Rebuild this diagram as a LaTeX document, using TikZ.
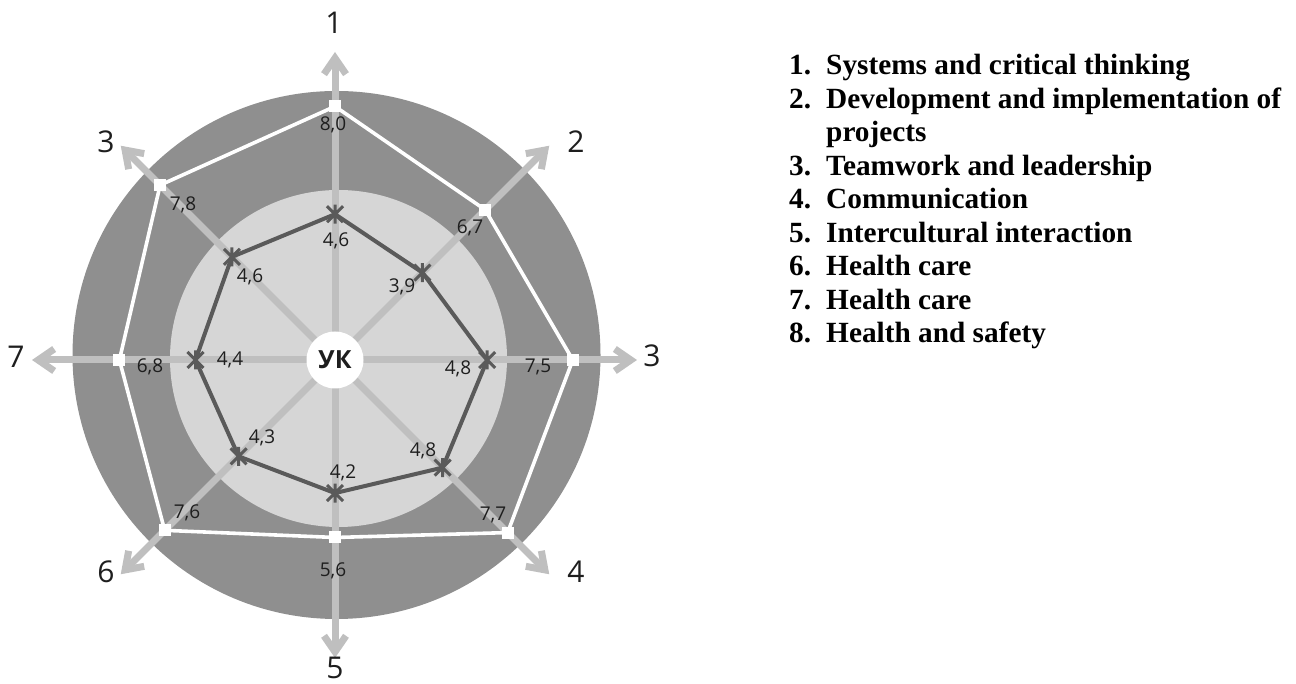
\documentclass[tikz,border=0pt]{standalone}
\usepackage{fontspec}
\setmainfont{Liberation Serif}
\newfontfamily\chartfont{Open Sans}
\usetikzlibrary{arrows.meta}
\definecolor{ringdark}{HTML}{8F8F8F}
\definecolor{ringlight}{HTML}{D6D6D6}
\definecolor{axcol}{HTML}{BFBFBF}
\definecolor{polydark}{HTML}{5A5A5A}
\definecolor{txtcol}{HTML}{1E1E1E}
\begin{document}
\begin{tikzpicture}[x=1pt,y=1pt,
  axisarrow/.style={draw=axcol, line width=7pt, -{Straight Barb[length=16pt,width=22pt]}},
  wline/.style={draw=white, line width=3.6pt, line join=miter},
  dline/.style={draw=polydark, line width=4pt, line join=round},
  wsq/.style={rectangle, fill=white, minimum size=12pt, inner sep=0pt},
  vlab/.style={inner sep=0pt, text=txtcol, font=\chartfont\fontsize{19}{22}\selectfont},
  alab/.style={inner sep=0pt, text=txtcol, font=\chartfont\fontsize{30}{34}\selectfont},
  legnum/.style={anchor=base west, inner sep=0pt, font=\fontsize{29.3}{33.5}\selectfont\bfseries},
  legtxt/.style={anchor=base west, inner sep=0pt, font=\fontsize{29.3}{33.5}\selectfont\bfseries},
  starm/.pic={\draw[polydark, line width=3pt] (-8,-8)--(8,8) (-8,8)--(8,-8) (0,-9.5)--(0,9.5);}
]
\useasboundingbox (0,0) rectangle (1296,684);
% rings
\fill[ringdark] (336.5,329) circle[radius=264];
\fill[ringlight] (338.5,325.5) circle[radius=168.5];
\coordinate (c) at (335,324);
\begin{scope}[shift={(c)}]
  % axis tips
  \coordinate (t1) at (90:308);
  \coordinate (t2) at (45:303);
  \coordinate (t3) at (0:302);
  \coordinate (t4) at (-45:303);
  \coordinate (t5) at (-90:298);
  \coordinate (t6) at (-135:303);
  \coordinate (t7) at (180:303);
  \coordinate (t8) at (135:303);
  % outer values (31.7 px per unit)
  \coordinate (o1) at (90:253.6);
  \coordinate (o2) at (45:212.4);
  \coordinate (o3) at (0:237.8);
  \coordinate (o4) at (-45:244.1);
  \coordinate (o5) at (-90:177.5);
  \coordinate (o6) at (-135:240.9);
  \coordinate (o7) at (180:215.6);
  \coordinate (o8) at (135:247.3);
  % inner values
  \coordinate (i1) at (90:145.8);
  \coordinate (i2) at (45:123.6);
  \coordinate (i3) at (0:152.2);
  \coordinate (i4) at (-45:152.2);
  \coordinate (i5) at (-90:133.1);
  \coordinate (i6) at (-135:136.3);
  \coordinate (i7) at (180:139.5);
  \coordinate (i8) at (135:145.8);
\end{scope}
% axes
\foreach \k in {1,...,8} {\draw[axisarrow] (c) -- (t\k);}
% outer polygon
\draw[wline] (o1) -- (o2) -- (o3) -- (o4) -- (o5) -- (o6) -- (o7) -- (o8) -- cycle;
\foreach \k in {1,...,8} {\node[wsq] (sq\k) at (o\k) {};}
% inner polygon
\draw[dline] (i1) -- (i2) -- (i3) -- (i4) -- (i5) -- (i6) -- (i7) -- (i8) -- cycle;
\foreach \k in {1,...,8} {\pic at (i\k) {starm};}
% centre
\node[circle, fill=white, minimum size=57pt, inner sep=0pt, text=txtcol,
      font=\chartfont\bfseries\fontsize{25}{28}\selectfont] (uk) at (c) {УК};
% value labels
\node[vlab] (v1) at (333,559) {8,0};
\node[vlab] (v2) at (470,456) {6,7};
\node[vlab] (v3) at (538,317) {7,5};
\node[vlab] (v4) at (493,169) {7,7};
\node[vlab] (v5) at (333,113) {5,6};
\node[vlab] (v6) at (187,171) {7,6};
\node[vlab] (v7) at (150,317) {6,8};
\node[vlab] (v8) at (183,479) {7,8};
\node[vlab] (w1) at (336,443) {4,6};
\node[vlab] (w2) at (402,397) {3,9};
\node[vlab] (w3) at (458,315) {4,8};
\node[vlab] (w4) at (423,233) {4,8};
\node[vlab] (w5) at (343,211) {4,2};
\node[vlab] (w6) at (262,246) {4,3};
\node[vlab] (w7) at (230,324) {4,4};
\node[vlab] (w8) at (250,407) {4,6};
% axis labels
\node[alab] (a1) at (334,661) {1};
\node[alab] (a2) at (576,542) {2};
\node[alab] (a3) at (652,328) {3};
\node[alab] (a4) at (576,112) {4};
\node[alab] (a5) at (335,16) {5};
\node[alab] (a6) at (106,112) {6};
\node[alab] (a7) at (16,327) {7};
\node[alab] (a8) at (106,542) {3};
% legend
\node[legnum] (n1) at (789,609) {1.};
\node[legtxt] (l1) at (826,609) {Systems and critical thinking};
\node[legnum] (n2) at (789,575.5) {2.};
\node[legtxt] (l2) at (826,575.5) {Development and implementation of};
\node[legtxt] (l2b) at (826,542) {projects};
\node[legnum] (n3) at (789,508.5) {3.};
\node[legtxt] (l3) at (826,508.5) {Teamwork and leadership};
\node[legnum] (n4) at (789,475) {4.};
\node[legtxt] (l4) at (826,475) {Communication};
\node[legnum] (n5) at (789,441.5) {5.};
\node[legtxt] (l5) at (826,441.5) {Intercultural interaction};
\node[legnum] (n6) at (789,408) {6.};
\node[legtxt] (l6) at (826,408) {Health care};
\node[legnum] (n7) at (789,374.5) {7.};
\node[legtxt] (l7) at (826,374.5) {Health care};
\node[legnum] (n8) at (789,341) {8.};
\node[legtxt] (l8) at (826,341) {Health and safety};
\end{tikzpicture}
\end{document}
